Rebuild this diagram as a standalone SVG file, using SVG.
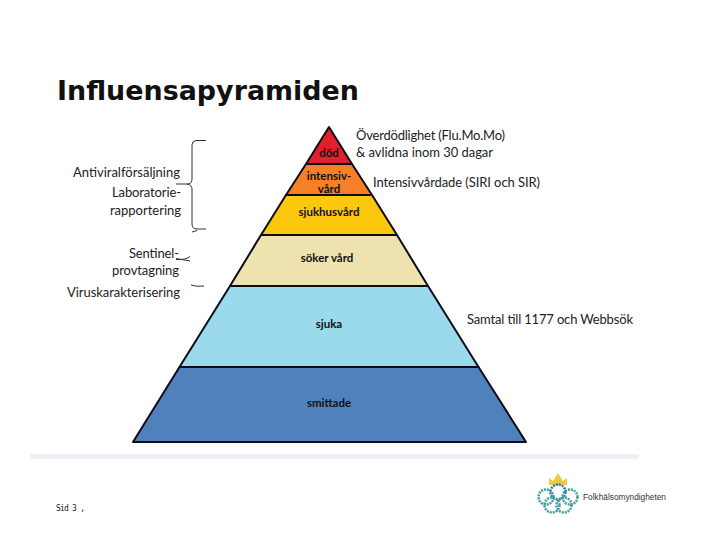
<svg xmlns="http://www.w3.org/2000/svg" width="720" height="540" viewBox="0 0 720 540">
<style>
.t{font-family:"Lato","Liberation Sans",sans-serif;fill:#222;font-size:13px}
.b{font-family:"Lato","Liberation Sans",sans-serif;fill:#111;font-size:11.500px;font-weight:700;text-anchor:middle}
.e{text-anchor:end}
.lvl{stroke:#0c0c14;stroke-width:2;stroke-linejoin:round}
.br{fill:none;stroke:#333;stroke-width:1}
</style>
<rect width="720" height="540" fill="#fff"/>
<text x="57" y="100" font-family="'DejaVu Sans','Liberation Sans',sans-serif" font-weight="700" font-size="27" textLength="302" lengthAdjust="spacingAndGlyphs" fill="#111">Influensapyramiden</text>
<g id="level-smittade"><polygon class="lvl" points="179.500,367 478.500,367 526,442 133,442" fill="#4f81bd"/><text class="b" x="329" y="407">smittade</text></g>
<g id="level-sjuka"><polygon class="lvl" points="230,286 428,286 478.500,367 179.500,367" fill="#9bd9ec"/><text class="b" x="329" y="328">sjuka</text></g>
<g id="level-soker"><polygon class="lvl" points="261,235 397,235 428,286 230,286" fill="#eee2ae"/><text class="b" x="327" y="262">söker vård</text></g>
<g id="level-sjukhus"><polygon class="lvl" points="286,195 372,195 397,235 261,235" fill="#fbc80e"/><text class="b" x="329" y="216">sjukhusvård</text></g>
<g id="level-intensiv"><polygon class="lvl" points="306,164 352,164 372,195 286,195" fill="#f58028"/><text class="b" x="329" y="180">intensiv-</text><text class="b" x="329" y="193">vård</text></g>
<g id="level-dod"><polygon class="lvl" points="329,127 352,164 306,164" fill="#e2202c"/><text class="b" x="329" y="157">död</text></g>
<g id="labels-right">
<text class="t" x="356" y="140" textLength="149">Överdödlighet (Flu.Mo.Mo)</text>
<text class="t" x="356" y="157" textLength="137">&amp; avlidna inom 30 dagar</text>
<text class="t" x="373" y="187" textLength="167">Intensivvårdade (SIRI och SIR)</text>
<text class="t" x="467" y="324" textLength="166">Samtal till 1177 och Webbsök</text>
</g>
<g id="labels-left">
<text class="t" x="73" y="177" textLength="107">Antiviralförsäljning</text>
<text class="t" x="112" y="197" textLength="69">Laboratorie-</text>
<text class="t" x="110" y="215" textLength="71">rapportering</text>
<text class="t" x="129" y="258" textLength="50">Sentinel-</text>
<text class="t" x="112" y="275" textLength="67">provtagning</text>
<text class="t" x="67" y="297" textLength="113">Viruskarakterisering</text>
</g>
<g id="connectors">
<path class="br" d="M206,140.500H196Q192,141 192,145V179Q192,184 187,184H176M187,184Q192,185 192,189V224Q192,229 197,229H206"/>
<path class="br" d="M192,232L197,230.500M176,259.500Q186,260 190,256.500M176,258.500L190,261"/>
<path class="br" d="M191,285Q196,287 204,286"/>
</g>
<rect x="30" y="454" width="609" height="5" fill="#edf1f6"/>
<text x="56" y="511" font-family="'DejaVu Sans Mono','Liberation Mono',monospace" font-size="8" textLength="29" fill="#222">Sid 3 ,</text>
<g id="logo">
<path d="M549,485L549,478L553,481L558,473L563,481L567,478L567,485Z" fill="#eec843"/>
<g fill="none" stroke="#3f9ea0" stroke-width="2.500" stroke-dasharray="2 1">
<circle cx="558" cy="492" r="7.500" stroke="#35749e"/>
<circle cx="546" cy="497" r="7.500"/>
<circle cx="570" cy="497" r="7.500"/>
<circle cx="552" cy="505" r="7.500"/>
<circle cx="564" cy="505" r="7.500"/>
</g>
<text x="583" y="500" font-family="'Liberation Sans',sans-serif" font-size="8.500" textLength="83" lengthAdjust="spacingAndGlyphs" fill="#333">Folkhälsomyndigheten</text>
</g>
</svg>
